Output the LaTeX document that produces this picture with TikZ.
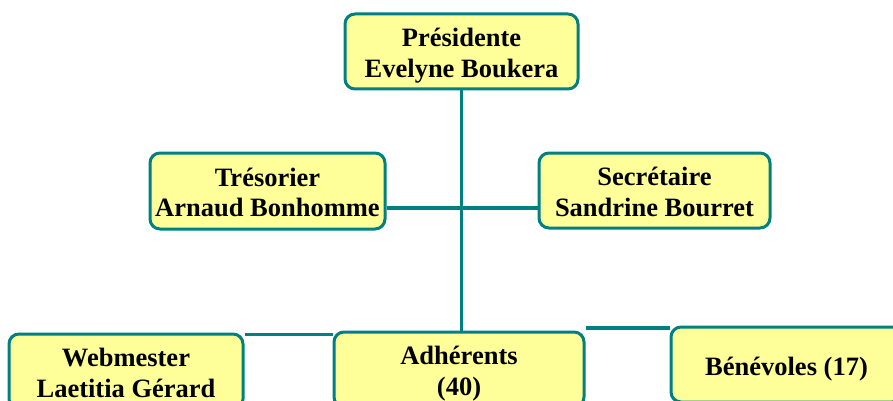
\documentclass[tikz,border=0pt]{standalone}
\usepackage{fontspec}
\setmainfont{Liberation Serif}
\definecolor{boxline}{RGB}{0,128,128}
\definecolor{boxfill}{RGB}{255,255,153}
% centred text block, set a little below the middle of its box
\newcommand\roletext[1]{\raisebox{-4.5pt}[\height][\depth]{%
  \begin{tabular}{@{}c@{}}#1\end{tabular}}}
\begin{document}
\begin{tikzpicture}[x=1pt,y=-1pt,
  rolebox/.style={draw=boxline, fill=boxfill, line width=3pt,
    rounded corners=10pt, inner sep=0pt,
    font=\bfseries\fontsize{26.5}{30.5}\selectfont},
  link/.style={draw=boxline, line width=3.5pt}]
\clip (0,0) rectangle (893,401);
\useasboundingbox (0,0) rectangle (893,401);
\fill[white] (0,0) rectangle (893,401);

% boxes
\node[rolebox, minimum width=233pt, minimum height=75pt] (pres) at (461.5,51.5)
  {\roletext{Présidente\\Evelyne Boukera}};
\node[rolebox, minimum width=235pt, minimum height=76pt] (tres) at (267.5,191)
  {\roletext{Trésorier\\Arnaud Bonhomme}};
\node[rolebox, minimum width=231pt, minimum height=75pt] (sec) at (654.5,190.5)
  {\roletext{Secrétaire\\Sandrine Bourret}};
\node[rolebox, minimum width=234pt, minimum height=75pt] (web) at (126,371.5)
  {\roletext{Webmester\\Laetitia Gérard}};
\node[rolebox, minimum width=250pt, minimum height=75pt] (adh) at (459,369.5)
  {\roletext{Adhérents\\(40)}};
\node[rolebox, minimum width=231pt, minimum height=75pt] (ben) at (786.5,364.5)
  {\roletext{Bénévoles (17)}};

% connectors
\draw[link] (pres.south) -- (pres.south |- adh.north);
\draw[link] ([yshift=-17pt]tres.east) -- ([yshift=-17pt]tres.east -| sec.west);
\draw[link] ([yshift=-2pt]web.north east) -- ([yshift=-2pt]web.north east -| adh.west);
\draw[link] ([yshift=-2.5pt]ben.north west -| adh.east) -- ([yshift=-2.5pt]ben.north west);
\end{tikzpicture}
\end{document}
